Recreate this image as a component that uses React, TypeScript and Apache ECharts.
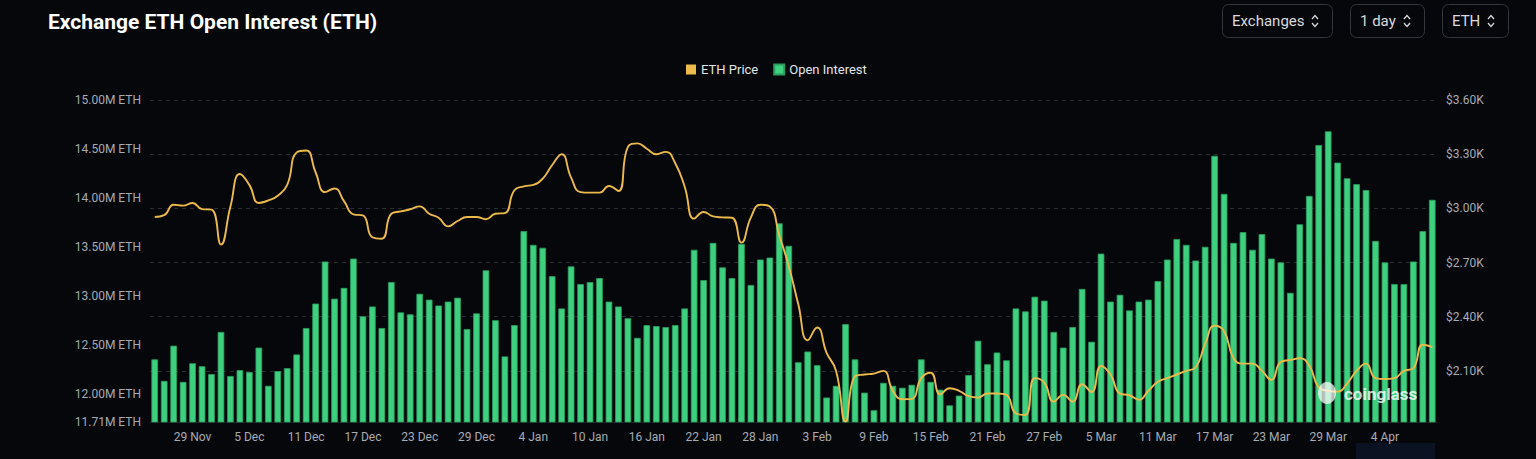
import React, { useEffect, useRef } from "react";
import * as echarts from "echarts";

// ---- categories: daily, 25 Nov 2024 .. 9 Apr 2025 ----
const MONTHS = ["Jan", "Feb", "Mar", "Apr", "May", "Jun", "Jul", "Aug", "Sep", "Oct", "Nov", "Dec"];
const START_DATE = Date.UTC(2024, 10, 25);
const DAY_COUNT = 136;
const categories: string[] = Array.from({ length: DAY_COUNT }, (_, i) => {
  const d = new Date(START_DATE + i * 86400000);
  return `${d.getUTCDate()} ${MONTHS[d.getUTCMonth()]}`;
});

// Open interest, millions of ETH
const openInterest = [
  12.35, 12.13, 12.49, 12.12, 12.31, 12.28, 12.2, 12.63, 12.18, 12.24,
  12.22, 12.47, 12.08, 12.23, 12.26, 12.4, 12.67, 12.92, 13.35, 12.97,
  13.08, 13.38, 12.79, 12.89, 12.67, 13.14, 12.83, 12.81, 13.02, 12.96,
  12.9, 12.94, 12.98, 12.66, 12.82, 13.26, 12.75, 12.38, 12.7, 13.66,
  13.52, 13.49, 13.2, 12.87, 13.3, 13.12, 13.14, 13.18, 12.94, 12.89,
  12.77, 12.57, 12.7, 12.69, 12.68, 12.7, 12.87, 13.47, 13.16, 13.54,
  13.29, 13.18, 13.53, 13.11, 13.37, 13.39, 13.74, 13.51, 12.32, 12.43,
  12.29, 11.96, 12.08, 12.71, 12.35, 12.01, 11.83, 12.11, 12.08, 12.06,
  12.09, 12.35, 12.12, 12.04, 11.88, 11.98, 12.19, 12.54, 12.3, 12.42,
  12.34, 12.87, 12.84, 12.99, 12.95, 12.63, 12.47, 12.68, 13.07, 12.53,
  13.43, 12.94, 13.01, 12.85, 12.94, 12.96, 13.15, 13.37, 13.58, 13.52,
  13.36, 13.5, 14.43, 14.04, 13.54, 13.65, 13.47, 13.63, 13.38, 13.34,
  13.03, 13.73, 14.02, 14.54, 14.68, 14.36, 14.2, 14.14, 14.08, 13.56,
  13.34, 13.12, 13.12, 13.35, 13.66, 13.98,
];

// ETH price, thousands of USD
const ethPrice = [
  2.952, 2.962, 3.02, 3.015, 3.03, 2.996, 2.993, 2.8, 3.01, 3.19,
  3.13, 3.03, 3.044, 3.07, 3.13, 3.31, 3.32, 3.2, 3.09, 3.11,
  3.04, 2.967, 2.961, 2.84, 2.832, 2.97, 2.983, 2.995, 3.011, 2.97,
  2.948, 2.9, 2.93, 2.952, 2.952, 2.94, 2.97, 2.974, 3.1, 3.122,
  3.13, 3.165, 3.24, 3.3, 3.17, 3.09, 3.087, 3.087, 3.124, 3.096,
  3.34, 3.36, 3.33, 3.3, 3.313, 3.25, 3.12, 2.943, 2.98, 2.956,
  2.95, 2.948, 2.81, 2.95, 3.02, 3.01, 2.85, 2.68, 2.47, 2.27,
  2.34, 2.2, 2.1, 1.82, 2.07, 2.08, 2.085, 2.1, 1.99, 1.943,
  1.945, 2.06, 2.09, 1.97, 2.004, 1.99, 1.96, 1.952, 1.975, 1.975,
  1.967, 1.865, 1.856, 2.06, 2.035, 1.93, 1.967, 1.93, 2.026, 1.983,
  2.127, 2.08, 1.974, 1.965, 1.94, 1.99, 2.04, 2.06, 2.08, 2.1,
  2.12, 2.25, 2.35, 2.32, 2.17, 2.14, 2.14, 2.1, 2.05, 2.15,
  2.16, 2.17, 2.13, 2.01, 1.99, 1.985, 2.03, 2.1, 2.14, 2.06,
  2.055, 2.06, 2.1, 2.115, 2.245, 2.232,
];

const leftTicks = [11.71, 12, 12.5, 13, 13.5, 14, 14.5, 15];
const rightTicks = [2.1, 2.4, 2.7, 3.0, 3.3, 3.6];
const buttonLabels = ["Exchanges", "1 day", "ETH"];

const BG = "#05070b";
const AXIS_TEXT = "#a8abb2";
const FONT = "Roboto, 'Noto Sans', sans-serif";

const buttonBoxes = [
  { x: 1222, w: 110 },
  { x: 1350, w: 74 },
  { x: 1442, w: 66 },
];

function buildGraphic() {
  const els: any[] = [];
  buttonLabels.forEach((label, i) => {
    const b = buttonBoxes[i];
    const cx = b.x + b.w - 17;
    els.push({
      type: "rect",
      shape: { x: b.x + 0.5, y: 4.5, width: b.w, height: 33, r: 6 },
      style: { fill: "transparent", stroke: "#33363c", lineWidth: 1 },
    });
    els.push({
      type: "text",
      x: b.x + 10,
      y: 21,
      style: { text: label, fill: "#d9dadc", fontSize: 15, fontFamily: FONT, verticalAlign: "middle" },
    });
    els.push({
      type: "polyline",
      shape: { points: [[cx - 3, 19], [cx, 15.5], [cx + 3, 19]] },
      style: { stroke: "#d9dadc", lineWidth: 1.2, fill: "none" },
    });
    els.push({
      type: "polyline",
      shape: { points: [[cx - 3, 23], [cx, 26.5], [cx + 3, 23]] },
      style: { stroke: "#d9dadc", lineWidth: 1.2, fill: "none" },
    });
  });
  // watermark
  els.push({
    type: "ellipse",
    shape: { cx: 1327, cy: 393, rx: 9, ry: 11 },
    style: { fill: "rgba(255,255,255,0.72)" },
    z: 10,
  });
  els.push({
    type: "text",
    x: 1344,
    y: 394,
    z: 10,
    style: {
      text: "coinglass",
      fill: "rgba(255,255,255,0.8)",
      fontSize: 17,
      fontWeight: "bold",
      fontFamily: FONT,
      verticalAlign: "middle",
    },
  });
  // clipped data-zoom window remnant at bottom
  els.push({
    type: "rect",
    shape: { x: 1356, y: 443, width: 79, height: 16 },
    style: { fill: "#0b1322" },
  });
  return els;
}

export default function App() {
  const ref = useRef<HTMLDivElement>(null);
  useEffect(() => {
    if (!ref.current) return;
    const chart = echarts.init(ref.current, null, { renderer: "svg" });
    chart.setOption({
      animation: false,
      backgroundColor: BG,
      textStyle: { fontFamily: FONT },
      title: {
        text: "Exchange ETH Open Interest (ETH)",
        left: 48,
        top: 11,
        padding: 0,
        textStyle: { color: "#ffffff", fontSize: 21, fontWeight: "bold", fontFamily: FONT },
      },
      legend: {
        data: ["ETH Price", "Open Interest"],
        left: 686,
        top: 63,
        padding: 0,
        icon: "rect",
        itemWidth: 10,
        itemHeight: 10,
        itemGap: 15,
        textStyle: { color: "#e4e5e7", fontSize: 13, fontFamily: FONT },
      },
      grid: { left: 150, right: 99, top: 100, bottom: 37, containLabel: false },
      xAxis: {
        type: "category",
        data: categories,
        boundaryGap: true,
        axisLine: { show: true, lineStyle: { color: "#1b1e23" } },
        axisTick: { show: false },
        axisLabel: {
          color: AXIS_TEXT,
          fontSize: 12,
          margin: 9,
          interval: (index: number) => index >= 4 && (index - 4) % 6 === 0,
        },
        splitLine: { show: false },
      },
      yAxis: [
        {
          type: "value",
          position: "left",
          min: 11.71,
          max: 15,
          splitLine: { show: false },
          axisLine: { show: false },
          axisTick: { show: false, customValues: leftTicks },
          axisLabel: {
            customValues: leftTicks,
            color: AXIS_TEXT,
            fontSize: 12,
            margin: 9,
            formatter: (v: number) => `${v.toFixed(2)}M ETH`,
          },
        },
        {
          type: "value",
          position: "right",
          min: 1.817,
          max: 3.6,
          axisLine: { show: false },
          axisTick: { show: false, customValues: rightTicks },
          splitLine: { show: true, lineStyle: { color: "#2a2d33", type: [4, 4], width: 1 } },
          axisLabel: {
            customValues: rightTicks,
            color: AXIS_TEXT,
            fontSize: 12,
            margin: 9,
            formatter: (v: number) => `$${v.toFixed(2)}K`,
          },
        },
      ],
      series: [
        {
          name: "Open Interest",
          type: "bar",
          yAxisIndex: 0,
          data: openInterest,
          barWidth: "70%",
          itemStyle: { color: "#3ecf7f", borderColor: "#2b9e5f", borderWidth: 0.8 },
          z: 2,
        },
        {
          name: "ETH Price",
          type: "line",
          yAxisIndex: 1,
          data: ethPrice,
          smooth: true,
          showSymbol: false,
          symbol: "none",
          itemStyle: { color: "#ecba4b" },
          lineStyle: { color: "#ecba4b", width: 1.9 },
          z: 3,
        },
      ],
      graphic: buildGraphic(),
    });
    return () => chart.dispose();
  }, []);
  return (
    <div
      ref={ref}
      style={{ position: "fixed", left: 0, top: 0, width: 1536, height: 459, background: BG }}
    />
  );
}
